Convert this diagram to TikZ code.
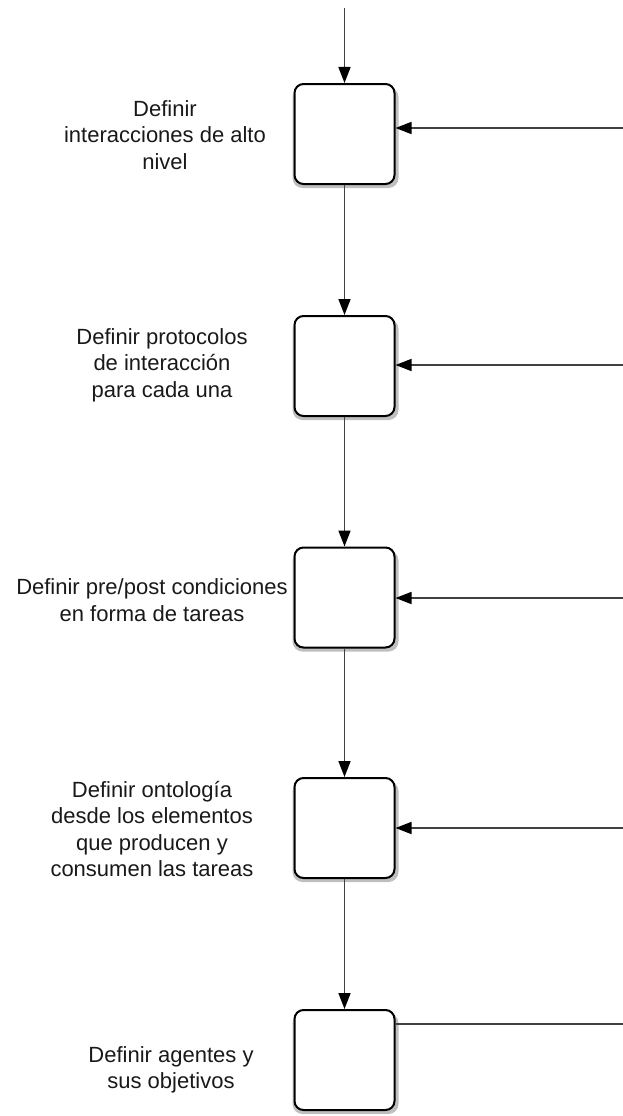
\documentclass[tikz,border=0pt]{standalone}
\usepackage{fontspec}
\setmainfont{Liberation Sans}
\usetikzlibrary{arrows.meta,backgrounds}

\def\colx{344.5}
\def\boxsize{100pt}
\def\rightx{623}

\tikzset{
  task/.style={draw=black, line width=2pt, rounded corners=9pt, fill=white,
    minimum width=\boxsize, minimum height=\boxsize, inner sep=0pt},
  taskshadow/.style={fill=black!25, rounded corners=10pt},
  tasktext/.style={align=center, inner sep=0pt, text=black!90, font=\fontsize{22}{26.5}\selectfont},
  flow/.style={-{Triangle[length=16pt,width=12pt,color=black]}, line width=1.6pt, draw=black!75},
}

\begin{document}
\begin{tikzpicture}[x=1pt,y=-1pt]
\useasboundingbox (0,0) rectangle (623,1116);

% Boxes
\node[task] (def1) at (\colx,134) {};
\node[task] (def2) at (\colx,366) {};
\node[task] (def3) at (\colx,597.5) {};
\node[task] (def4) at (\colx,828) {};
\node[task] (def5) at (\colx,1060) {};

% Shadows under the boxes
\begin{scope}[on background layer]
\foreach \i in {1,...,5} {
    \fill[taskshadow] ([shift={(-1,3)}]def\i.south west) rectangle ([shift={(3,4)}]def\i.north east);
}
\end{scope}

% Labels
\node[tasktext] (txt1) at (165,135) {Definir\\interacciones de alto\\nivel};
\node[tasktext] (txt2) at (162,365) {Definir protocolos\\de interacción\\para cada una};
\node[tasktext] (txt3) at (152,600) {Definir pre/post condiciones\\en forma de tareas};
\node[tasktext] (txt4) at (152,829) {Definir ontología\\desde los elementos\\que producen y\\consumen las tareas};
\node[tasktext] (txt5) at (171,1070) {Definir agentes y\\sus objetivos};

% Entry and side inputs
\coordinate (start) at (\colx,8);
\coordinate (in1) at (\rightx,128);
\coordinate (in2) at (\rightx,365);
\coordinate (in3) at (\rightx,598);
\coordinate (in4) at (\rightx,828);
\coordinate (out5) at (\rightx,1024);

\draw[flow] (start) -- (def1.north); % entry arrow
\foreach \i/\j in {1/2,2/3,3/4,4/5} {
    \draw[flow] (def\i.south) -- (def\j.north); % chain
}
\draw[flow] (in1) -- (def1.east |- in1);
\foreach \i in {2,3,4} {
    \draw[flow] (in\i) -- (def\i.east |- in\i); % side input
}
\draw[line width=1.6pt, draw=black!75] (def5.east |- out5) -- (out5); % last box out

\end{tikzpicture}
\end{document}
